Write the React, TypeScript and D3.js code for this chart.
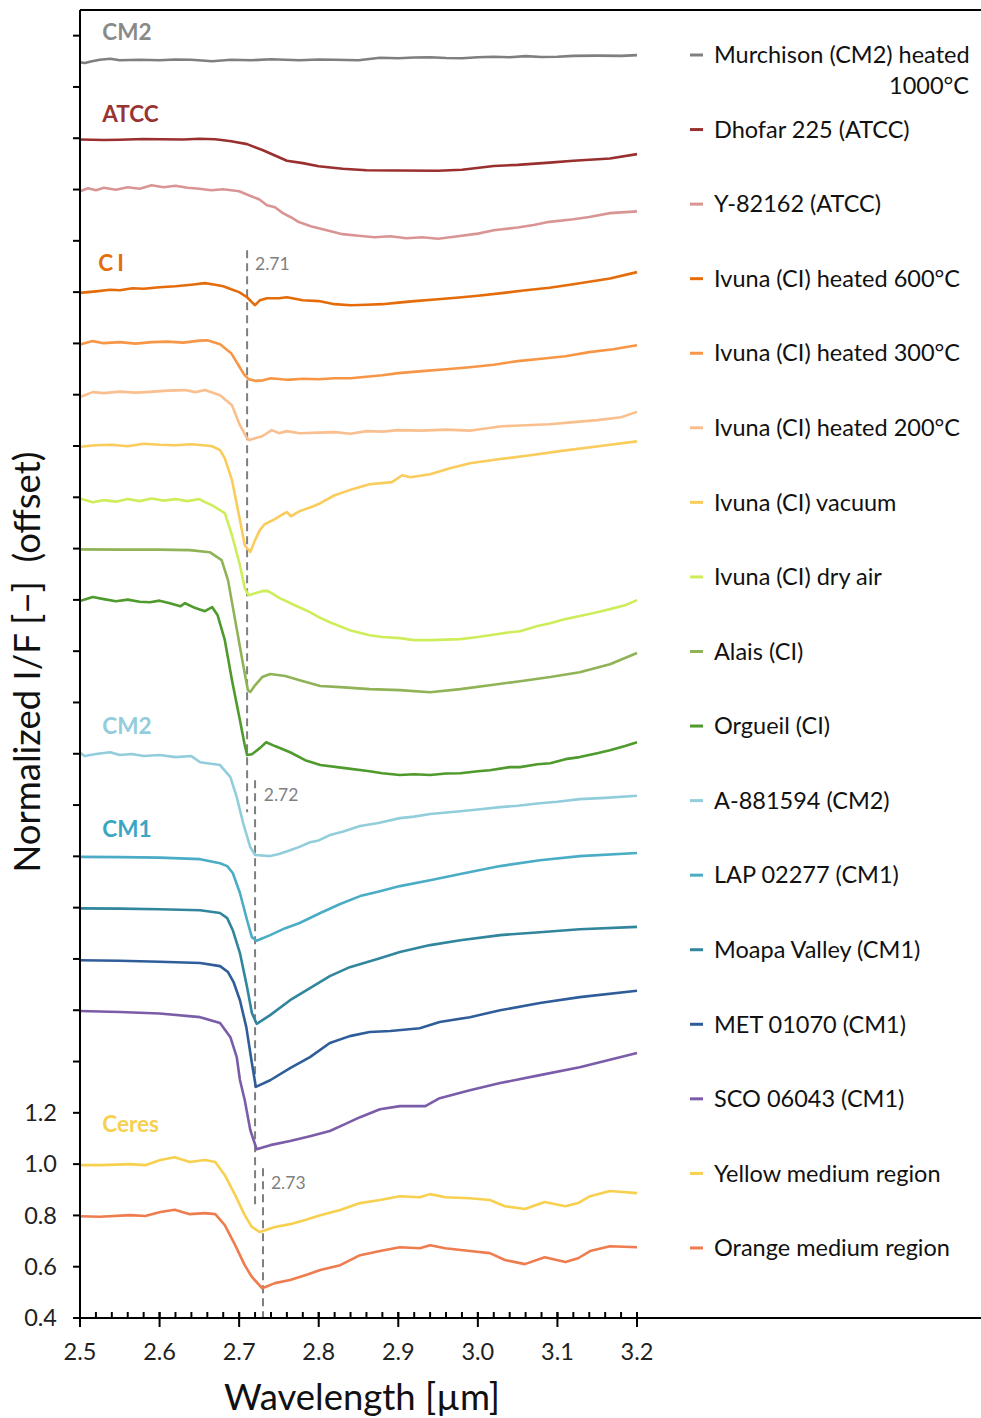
import React from "react";
import * as d3 from "d3";

type Pt = [number, number];

// spectra, wavelength [µm] vs normalized I/F with offset
const murchisonHeated: Pt[] = [
  [2.5, 5.296], [2.506, 5.293], [2.515, 5.300], [2.525, 5.306], [2.538, 5.310], [2.55, 5.304],
  [2.575, 5.306], [2.6, 5.304], [2.62, 5.307], [2.64, 5.306], [2.666, 5.300], [2.69, 5.306],
  [2.715, 5.304], [2.74, 5.308], [2.776, 5.304], [2.8, 5.307], [2.82, 5.306], [2.85, 5.304],
  [2.877, 5.314], [2.9, 5.312], [2.92, 5.315], [2.94, 5.316], [2.96, 5.313], [2.98, 5.312],
  [3.0, 5.316], [3.02, 5.318], [3.04, 5.316], [3.06, 5.320], [3.08, 5.317], [3.1, 5.318],
  [3.12, 5.321], [3.15, 5.322], [3.18, 5.321], [3.2, 5.324],
];

const dhofar225: Pt[] = [
  [2.5, 4.995], [2.53, 4.993], [2.55, 4.994], [2.58, 4.997], [2.6, 4.996], [2.63, 4.995],
  [2.65, 4.998], [2.67, 4.996], [2.69, 4.988], [2.71, 4.977], [2.73, 4.953], [2.75, 4.926],
  [2.76, 4.912], [2.78, 4.903], [2.8, 4.891], [2.83, 4.881], [2.86, 4.875], [2.9, 4.874],
  [2.95, 4.873], [2.98, 4.877], [3.02, 4.892], [3.05, 4.896], [3.09, 4.905], [3.12, 4.912],
  [3.166, 4.921], [3.2, 4.938],
];

const y82162: Pt[] = [
  [2.5, 4.793], [2.51, 4.805], [2.52, 4.797], [2.53, 4.807], [2.545, 4.799], [2.56, 4.809],
  [2.575, 4.803], [2.59, 4.817], [2.605, 4.809], [2.62, 4.815], [2.635, 4.807], [2.65, 4.803],
  [2.665, 4.797], [2.68, 4.801], [2.7, 4.793], [2.715, 4.774], [2.725, 4.762], [2.735, 4.739],
  [2.745, 4.731], [2.755, 4.708], [2.765, 4.692], [2.775, 4.673], [2.79, 4.657], [2.8, 4.649],
  [2.815, 4.637], [2.83, 4.626], [2.85, 4.620], [2.87, 4.614], [2.89, 4.618], [2.91, 4.610],
  [2.93, 4.614], [2.95, 4.608], [2.97, 4.616], [3.0, 4.628], [3.02, 4.641], [3.05, 4.652],
  [3.07, 4.662], [3.09, 4.674], [3.12, 4.684], [3.14, 4.693], [3.166, 4.708], [3.2, 4.715],
];

const ivuna600: Pt[] = [
  [2.5, 4.397], [2.52, 4.403], [2.538, 4.409], [2.55, 4.407], [2.566, 4.415], [2.58, 4.413],
  [2.6, 4.419], [2.62, 4.423], [2.64, 4.429], [2.657, 4.435], [2.67, 4.429], [2.68, 4.423],
  [2.69, 4.411], [2.7, 4.400], [2.71, 4.380], [2.716, 4.361], [2.72, 4.349], [2.726, 4.368],
  [2.735, 4.376], [2.75, 4.376], [2.76, 4.380], [2.78, 4.368], [2.8, 4.365], [2.82, 4.353],
  [2.84, 4.349], [2.86, 4.351], [2.88, 4.353], [2.9, 4.359], [2.92, 4.365], [2.95, 4.372],
  [2.98, 4.380], [3.0, 4.386], [3.03, 4.396], [3.06, 4.407], [3.09, 4.417], [3.12, 4.431],
  [3.166, 4.453], [3.2, 4.478],
];

const ivuna300: Pt[] = [
  [2.5, 4.196], [2.516, 4.209], [2.53, 4.201], [2.55, 4.205], [2.57, 4.199], [2.59, 4.205],
  [2.61, 4.207], [2.63, 4.203], [2.65, 4.211], [2.66, 4.212], [2.676, 4.197], [2.69, 4.162],
  [2.7, 4.111], [2.706, 4.080], [2.712, 4.060], [2.72, 4.054], [2.73, 4.056], [2.74, 4.064],
  [2.76, 4.058], [2.78, 4.062], [2.8, 4.060], [2.82, 4.064], [2.84, 4.064], [2.86, 4.070],
  [2.88, 4.076], [2.9, 4.084], [2.93, 4.092], [2.96, 4.099], [2.99, 4.107], [3.02, 4.117],
  [3.05, 4.131], [3.08, 4.140], [3.11, 4.150], [3.14, 4.166], [3.17, 4.177], [3.2, 4.193],
];

const ivuna200: Pt[] = [
  [2.5, 3.991], [2.516, 4.010], [2.53, 4.006], [2.55, 4.012], [2.57, 4.008], [2.588, 4.011],
  [2.61, 4.016], [2.632, 4.018], [2.645, 4.010], [2.657, 4.018], [2.676, 3.998], [2.691, 3.959],
  [2.701, 3.881], [2.71, 3.830], [2.713, 3.823], [2.72, 3.830], [2.729, 3.838], [2.741, 3.862],
  [2.75, 3.850], [2.76, 3.858], [2.776, 3.850], [2.8, 3.852], [2.82, 3.854], [2.84, 3.848],
  [2.86, 3.858], [2.88, 3.856], [2.9, 3.862], [2.93, 3.860], [2.96, 3.864], [2.99, 3.860],
  [3.003, 3.865], [3.03, 3.877], [3.06, 3.881], [3.09, 3.885], [3.12, 3.893], [3.15, 3.901],
  [3.18, 3.912], [3.2, 3.933],
];

const ivunaVacuum: Pt[] = [
  [2.5, 3.797], [2.52, 3.803], [2.54, 3.805], [2.56, 3.799], [2.58, 3.809], [2.6, 3.805],
  [2.62, 3.803], [2.64, 3.807], [2.655, 3.803], [2.666, 3.799], [2.676, 3.784], [2.682, 3.752],
  [2.691, 3.667], [2.701, 3.511], [2.707, 3.413], [2.714, 3.387], [2.72, 3.433], [2.726, 3.472],
  [2.732, 3.495], [2.745, 3.515], [2.755, 3.534], [2.76, 3.542], [2.765, 3.526], [2.776, 3.546],
  [2.79, 3.561], [2.802, 3.577], [2.82, 3.608], [2.839, 3.628], [2.864, 3.651], [2.892, 3.659],
  [2.905, 3.686], [2.915, 3.678], [2.94, 3.690], [2.965, 3.713], [2.99, 3.733], [3.028, 3.749],
  [3.066, 3.764], [3.103, 3.780], [3.154, 3.800], [3.2, 3.818],
];

const ivunaDryAir: Pt[] = [
  [2.5, 3.595], [2.516, 3.581], [2.53, 3.589], [2.545, 3.583], [2.56, 3.593], [2.575, 3.585],
  [2.59, 3.595], [2.605, 3.587], [2.62, 3.593], [2.635, 3.585], [2.65, 3.593], [2.657, 3.581],
  [2.666, 3.569], [2.682, 3.538], [2.691, 3.452], [2.701, 3.335], [2.707, 3.246], [2.712, 3.218],
  [2.72, 3.226], [2.729, 3.234], [2.736, 3.235], [2.751, 3.207], [2.77, 3.179], [2.789, 3.152],
  [2.8, 3.133], [2.814, 3.113], [2.839, 3.082], [2.864, 3.062], [2.88, 3.055], [2.902, 3.051],
  [2.92, 3.043], [2.94, 3.043], [2.96, 3.045], [2.978, 3.047], [3.0, 3.055], [3.015, 3.062],
  [3.04, 3.074], [3.053, 3.078], [3.075, 3.098], [3.091, 3.109], [3.11, 3.125], [3.128, 3.137],
  [3.15, 3.152], [3.166, 3.164], [3.185, 3.179], [3.2, 3.199],
];

const alais: Pt[] = [
  [2.5, 3.397], [2.55, 3.396], [2.6, 3.396], [2.638, 3.394], [2.663, 3.386], [2.678, 3.355],
  [2.686, 3.277], [2.695, 3.121], [2.704, 2.965], [2.711, 2.848], [2.714, 2.841], [2.72, 2.867],
  [2.729, 2.899], [2.739, 2.911], [2.758, 2.903], [2.776, 2.887], [2.802, 2.864], [2.827, 2.860],
  [2.864, 2.852], [2.902, 2.848], [2.94, 2.840], [2.978, 2.852], [3.015, 2.867], [3.053, 2.883],
  [3.091, 2.899], [3.128, 2.918], [3.166, 2.949], [3.2, 2.993],
];

const orgueil: Pt[] = [
  [2.5, 3.196], [2.516, 3.211], [2.53, 3.203], [2.545, 3.195], [2.56, 3.201], [2.575, 3.193],
  [2.588, 3.191], [2.6, 3.197], [2.613, 3.187], [2.626, 3.175], [2.632, 3.187], [2.645, 3.168],
  [2.657, 3.156], [2.666, 3.172], [2.673, 3.140], [2.682, 3.043], [2.691, 2.887], [2.701, 2.731],
  [2.707, 2.634], [2.71, 2.595], [2.716, 2.598], [2.726, 2.622], [2.734, 2.645], [2.745, 2.630],
  [2.764, 2.606], [2.783, 2.575], [2.802, 2.556], [2.833, 2.544], [2.864, 2.532], [2.88, 2.524],
  [2.902, 2.517], [2.92, 2.520], [2.94, 2.517], [2.96, 2.523], [2.978, 2.524], [3.0, 2.532],
  [3.015, 2.536], [3.04, 2.548], [3.053, 2.548], [3.075, 2.559], [3.091, 2.563], [3.11, 2.579],
  [3.128, 2.587], [3.15, 2.602], [3.166, 2.614], [3.185, 2.630], [3.2, 2.645],
];

const a881594: Pt[] = [
  [2.5, 2.604], [2.506, 2.591], [2.52, 2.599], [2.538, 2.606], [2.55, 2.595], [2.565, 2.599],
  [2.58, 2.591], [2.6, 2.595], [2.62, 2.587], [2.64, 2.591], [2.651, 2.567], [2.676, 2.556],
  [2.689, 2.509], [2.697, 2.431], [2.705, 2.330], [2.714, 2.236], [2.72, 2.205], [2.739, 2.201],
  [2.75, 2.209], [2.764, 2.224], [2.775, 2.236], [2.789, 2.255], [2.8, 2.262], [2.814, 2.283],
  [2.83, 2.296], [2.852, 2.318], [2.875, 2.330], [2.902, 2.349], [2.92, 2.355], [2.94, 2.365],
  [2.978, 2.376], [3.0, 2.383], [3.028, 2.392], [3.05, 2.397], [3.078, 2.407], [3.1, 2.413],
  [3.128, 2.423], [3.16, 2.428], [3.2, 2.436],
];

const lap02277: Pt[] = [
  [2.5, 2.198], [2.55, 2.197], [2.6, 2.195], [2.651, 2.189], [2.676, 2.173], [2.685, 2.162],
  [2.692, 2.135], [2.701, 2.057], [2.71, 1.951], [2.716, 1.885], [2.722, 1.871], [2.739, 1.893],
  [2.758, 1.920], [2.776, 1.940], [2.802, 1.979], [2.827, 2.014], [2.852, 2.045], [2.877, 2.064],
  [2.902, 2.084], [2.94, 2.107], [2.978, 2.131], [3.028, 2.162], [3.078, 2.185], [3.128, 2.201],
  [3.2, 2.213],
];

const moapaValley: Pt[] = [
  [2.5, 1.997], [2.55, 1.996], [2.6, 1.994], [2.651, 1.990], [2.676, 1.979], [2.685, 1.959],
  [2.692, 1.912], [2.701, 1.823], [2.71, 1.690], [2.716, 1.589], [2.722, 1.547], [2.739, 1.581],
  [2.764, 1.639], [2.789, 1.686], [2.814, 1.733], [2.839, 1.768], [2.877, 1.803], [2.902, 1.827],
  [2.94, 1.854], [2.978, 1.873], [3.028, 1.893], [3.078, 1.904], [3.128, 1.916], [3.2, 1.925],
];

const met01070: Pt[] = [
  [2.5, 1.795], [2.55, 1.793], [2.6, 1.789], [2.651, 1.784], [2.676, 1.772], [2.686, 1.749],
  [2.693, 1.710], [2.701, 1.639], [2.709, 1.534], [2.716, 1.394], [2.721, 1.301], [2.739, 1.327],
  [2.764, 1.374], [2.789, 1.417], [2.814, 1.472], [2.839, 1.499], [2.864, 1.515], [2.89, 1.519],
  [2.927, 1.530], [2.952, 1.554], [2.99, 1.573], [3.028, 1.600], [3.078, 1.628], [3.128, 1.651],
  [3.2, 1.676],
];

const sco06043: Pt[] = [
  [2.5, 1.597], [2.55, 1.593], [2.6, 1.587], [2.651, 1.573], [2.676, 1.550], [2.689, 1.495],
  [2.697, 1.417], [2.701, 1.328], [2.707, 1.250], [2.714, 1.133], [2.722, 1.058], [2.739, 1.074],
  [2.764, 1.090], [2.789, 1.109], [2.814, 1.129], [2.833, 1.156], [2.852, 1.183], [2.877, 1.214],
  [2.902, 1.226], [2.934, 1.226], [2.952, 1.257], [2.99, 1.288], [3.028, 1.316], [3.078, 1.347],
  [3.128, 1.378], [3.2, 1.433],
];

const ceresYellow: Pt[] = [
  [2.5, 0.996], [2.525, 0.996], [2.563, 1.000], [2.582, 0.996], [2.601, 1.016], [2.619, 1.027],
  [2.638, 1.008], [2.657, 1.016], [2.67, 1.008], [2.682, 0.957], [2.695, 0.879], [2.707, 0.801],
  [2.716, 0.755], [2.726, 0.735], [2.745, 0.755], [2.764, 0.766], [2.783, 0.782], [2.802, 0.801],
  [2.827, 0.821], [2.852, 0.848], [2.877, 0.860], [2.902, 0.875], [2.927, 0.871], [2.94, 0.883],
  [2.959, 0.871], [2.99, 0.867], [3.015, 0.860], [3.034, 0.836], [3.059, 0.825], [3.084, 0.852],
  [3.11, 0.836], [3.126, 0.848], [3.141, 0.875], [3.166, 0.895], [3.2, 0.887],
];

const ceresOrange: Pt[] = [
  [2.5, 0.797], [2.525, 0.795], [2.563, 0.801], [2.582, 0.798], [2.601, 0.813], [2.619, 0.822],
  [2.638, 0.805], [2.657, 0.809], [2.67, 0.805], [2.682, 0.762], [2.695, 0.684], [2.707, 0.606],
  [2.716, 0.560], [2.729, 0.516], [2.745, 0.536], [2.764, 0.548], [2.783, 0.567], [2.802, 0.587],
  [2.827, 0.606], [2.852, 0.645], [2.877, 0.661], [2.902, 0.676], [2.927, 0.672], [2.94, 0.684],
  [2.959, 0.672], [2.99, 0.661], [3.015, 0.653], [3.034, 0.626], [3.059, 0.610], [3.084, 0.637],
  [3.11, 0.618], [3.126, 0.633], [3.141, 0.661], [3.166, 0.680], [3.2, 0.676],
];

const series = [
  { label: ["Murchison (CM2) heated", "1000°C"], color: "#7f7f7f", data: murchisonHeated },
  { label: ["Dhofar 225 (ATCC)"], color: "#992f2f", data: dhofar225 },
  { label: ["Y-82162 (ATCC)"], color: "#d99594", data: y82162 },
  { label: ["Ivuna (CI) heated 600°C"], color: "#e46c0a", data: ivuna600 },
  { label: ["Ivuna (CI) heated 300°C"], color: "#f79646", data: ivuna300 },
  { label: ["Ivuna (CI) heated 200°C"], color: "#fabf8f", data: ivuna200 },
  { label: ["Ivuna (CI) vacuum"], color: "#f9cc5c", data: ivunaVacuum },
  { label: ["Ivuna (CI) dry air"], color: "#cdee5a", data: ivunaDryAir },
  { label: ["Alais (CI)"], color: "#8fb356", data: alais },
  { label: ["Orgueil (CI)"], color: "#4f9a2c", data: orgueil },
  { label: ["A-881594 (CM2)"], color: "#92cddc", data: a881594 },
  { label: ["LAP 02277 (CM1)"], color: "#4bacc6", data: lap02277 },
  { label: ["Moapa Valley (CM1)"], color: "#31859c", data: moapaValley },
  { label: ["MET 01070 (CM1)"], color: "#2f5d99", data: met01070 },
  { label: ["SCO 06043 (CM1)"], color: "#7b5ca8", data: sco06043 },
  { label: ["Yellow medium region"], color: "#f7d04f", data: ceresYellow },
  { label: ["Orange medium region"], color: "#ee7c4f", data: ceresOrange },
];

// group labels drawn inside the plot
const groupLabels = [
  { text: "CM2", color: "#8a8a8a", w: 2.528, v: 5.382 },
  { text: "ATCC", color: "#993333", w: 2.528, v: 5.062 },
  { text: "CI", color: "#e46c0a", w: 2.523, v: 4.481 },
  { text: "CM2", color: "#92cddc", w: 2.528, v: 2.676 },
  { text: "CM1", color: "#3ca6c2", w: 2.528, v: 2.275 },
  { text: "Ceres", color: "#f7d04f", w: 2.528, v: 1.125 },
];

// band centre markers
const bandLines = [
  { w: 2.71, top: 4.563, bottom: 2.372, label: "2.71", lw: 2.72, lv: 4.485 },
  { w: 2.72, top: 2.497, bottom: 0.84, label: "2.72", lw: 2.731, lv: 2.415 },
  { w: 2.73, top: 0.984, bottom: 0.4, label: "2.73", lw: 2.74, lv: 0.903 },
];

const xTicks = [2.5, 2.6, 2.7, 2.8, 2.9, 3.0, 3.1, 3.2];
const yTickLabels = [0.4, 0.6, 0.8, 1.0, 1.2];

const W = 981;
const H = 1418;
const left = 80;
const top = 10;
const bottom = 1318;
const plotRight = 637;
const frameRight = 981;
const font = "Lato, 'Open Sans', sans-serif";

export default function App() {
  const x = d3.scaleLinear().domain([2.5, 3.2]).range([left, plotRight]);
  const y = d3.scaleLinear().domain([0.4, 5.5]).range([bottom, top]);
  const line = d3
    .line<Pt>()
    .x((d) => x(d[0]))
    .y((d) => y(d[1]));

  const yTicks = d3.range(0, 26).map((i) => 0.4 + i * 0.2);
  const xMinor = d3.range(0, 36).map((i) => 2.5 + i * 0.02);
  const legendY0 = 55;
  const legendStep = 74.56;

  return (
    <svg
      width={W}
      height={H}
      style={{ position: "absolute", left: 0, top: 0, background: "#fff" }}
      fontFamily={font}
    >
      <rect width={W} height={H} fill="#fff" />

      {/* dashed band markers */}
      {bandLines.map((b) => (
        <g key={b.label}>
          <line
            x1={x(b.w)}
            x2={x(b.w)}
            y1={y(b.top)}
            y2={y(b.bottom)}
            stroke="#7f7f7f"
            strokeWidth={2}
            strokeDasharray="8,5"
          />
          <text x={x(b.lw)} y={y(b.lv)} fontSize={17.5} fill="#7f7f7f">
            {b.label}
          </text>
        </g>
      ))}

      {/* spectra */}
      {series.map((s, i) => (
        <path
          key={i}
          d={line(s.data) || ""}
          fill="none"
          stroke={s.color}
          strokeWidth={2.6}
          strokeLinejoin="round"
        />
      ))}

      {/* group labels */}
      {groupLabels.map((g, i) => (
        <text
          key={i}
          x={x(g.w)}
          y={y(g.v)}
          fontSize={22.5}
          fontWeight="bold"
          fill={g.color}
          letterSpacing={g.text === "CI" ? 4 : 0}
        >
          {g.text}
        </text>
      ))}

      {/* frame */}
      <line x1={left} x2={frameRight} y1={top} y2={top} stroke="#000" strokeWidth={2} />
      <line x1={left} x2={left} y1={top} y2={bottom} stroke="#000" strokeWidth={2} />
      <line x1={left} x2={frameRight} y1={bottom} y2={bottom} stroke="#000" strokeWidth={2} />

      {/* y ticks */}
      {yTicks.map((t, i) => (
        <line key={i} x1={left - 7} x2={left} y1={y(t)} y2={y(t)} stroke="#000" strokeWidth={2} />
      ))}
      {yTickLabels.map((t) => (
        <text
          key={t}
          x={left - 23}
          y={y(t)}
          dy="0.35em"
          textAnchor="end"
          fontSize={23.5}
          fill="#222"
        >
          {t.toFixed(1)}
        </text>
      ))}

      {/* x ticks */}
      {xMinor.map((t, i) => (
        <line key={i} x1={x(t)} x2={x(t)} y1={bottom - 6} y2={bottom} stroke="#000" strokeWidth={2} />
      ))}
      {xTicks.map((t) => (
        <g key={t}>
          <line x1={x(t)} x2={x(t)} y1={bottom - 6} y2={bottom + 9} stroke="#000" strokeWidth={2} />
          <text x={x(t)} y={bottom + 34} dy="0.35em" textAnchor="middle" fontSize={23.5} fill="#222">
            {t.toFixed(1)}
          </text>
        </g>
      ))}

      {/* axis titles */}
      <text x={362} y={1410} textAnchor="middle" fontSize={36.5} fill="#111">
        Wavelength [µm]
      </text>
      <text
        transform={`translate(40, 662) rotate(-90)`}
        textAnchor="middle"
        fontSize={36.5}
        fill="#111"
        xmlSpace="preserve"
      >
        {"Normalized I/F [−]  (offset)"}
      </text>

      {/* legend */}
      {series.map((s, i) => {
        const ly = legendY0 + i * legendStep;
        return (
          <g key={i}>
            <line x1={690} x2={703} y1={ly} y2={ly} stroke={s.color} strokeWidth={3} />
            <text x={714} y={ly} dy="0.35em" fontSize={23.5} fill="#111">
              {s.label[0]}
            </text>
            {s.label[1] && (
              <text x={969} y={ly + 31} dy="0.35em" textAnchor="end" fontSize={23.5} fill="#111">
                {s.label[1]}
              </text>
            )}
          </g>
        );
      })}
    </svg>
  );
}
